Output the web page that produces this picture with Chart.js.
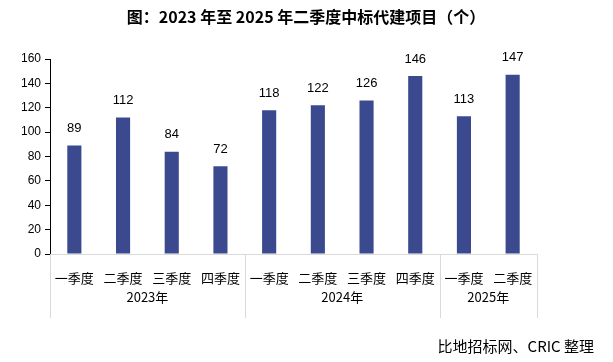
<!DOCTYPE html>
<html>
<head>
<meta charset="utf-8">
<script src="https://cdn.jsdelivr.net/npm/chart.js@4"></script>
<style>
  html, body { margin: 0; padding: 0; background: #fff; }
  #wrap { position: relative; width: 613px; height: 362px; }
</style>
</head>
<body>
<div id="wrap"><canvas id="chart"></canvas></div>
<script>
// chart data
const quarters = ['一季度', '二季度', '三季度', '四季度', '一季度', '二季度', '三季度', '四季度', '一季度', '二季度'];
const years = ['2023年', '2024年', '2025年'];
const yearSpans = [4, 4, 2]; // quarters per year group
const projects = [89, 112, 84, 72, 118, 122, 126, 146, 113, 147];
const yTicks = [0, 20, 40, 60, 80, 100, 120, 140, 160];

const titleText = '图：2023 年至 2025 年二季度中标代建项目（个）';
const sourceText = '比地招标网、CRIC 整理';

const BAR_COLOR = '#3B4A8F';
const FONT = '"Liberation Sans", "Noto Sans CJK SC", sans-serif';
const CJK = '"Noto Sans CJK SC", "Liberation Sans", sans-serif';

// value labels above bars, year groups and separators under the axis, title, source note
const extrasPlugin = {
    id: 'extras',
    afterDatasetsDraw(chart) {
        const ctx = chart.ctx;
        const meta = chart.getDatasetMeta(0);
        ctx.save();
        ctx.fillStyle = '#000';
        ctx.font = '13px ' + FONT;
        ctx.textAlign = 'center';
        ctx.textBaseline = 'middle';
        meta.data.forEach((bar, i) => {
            ctx.fillText(String(projects[i]), bar.x, bar.y - 17);
        });
        ctx.restore();
    },
    afterDraw(chart) {
        const ctx = chart.ctx;
        const area = chart.chartArea;
        const step = (area.right - area.left) / quarters.length;
        ctx.save();
        // group separators
        ctx.strokeStyle = '#d9d9d9';
        ctx.lineWidth = 1;
        let idx = 0;
        const edges = [0];
        yearSpans.forEach(n => { idx += n; edges.push(idx); });
        edges.forEach(e => {
            const px = Math.round(area.left + e * step) + 0.5;
            ctx.beginPath();
            ctx.moveTo(px, area.bottom);
            ctx.lineTo(px, area.bottom + 64);
            ctx.stroke();
        });
        // year labels
        ctx.fillStyle = '#000';
        ctx.font = '13px ' + CJK;
        ctx.textAlign = 'center';
        ctx.textBaseline = 'middle';
        years.forEach((y, i) => {
            const cx = area.left + (edges[i] + edges[i + 1]) / 2 * step;
            ctx.fillText(y, cx, area.bottom + 43);
        });
        // title
        ctx.font = 'bold 16px ' + CJK;
        ctx.textAlign = 'center';
        ctx.fillText(titleText, 306, 17);
        // source note
        ctx.font = '15px ' + CJK;
        ctx.textAlign = 'right';
        ctx.fillText(sourceText, 594, 346);
        ctx.restore();
    }
};

const ctx = document.getElementById('chart');
new Chart(ctx, {
    type: 'bar',
    data: {
        labels: quarters,
        datasets: [{
            data: projects,
            backgroundColor: BAR_COLOR,
            categoryPercentage: 1,
            barPercentage: 0.29
        }]
    },
    options: {
        responsive: true,
        maintainAspectRatio: false,
        animation: false,
        layout: { padding: { left: 8, right: 76, top: 59, bottom: 0 } },
        plugins: {
            legend: { display: false },
            tooltip: { enabled: false },
            title: { display: false }
        },
        scales: {
            x: {
                grid: { display: false, drawTicks: false },
                border: { display: true, color: '#d9d9d9' },
                ticks: {
                    color: '#000',
                    font: { family: CJK, size: 13 },
                    padding: 16,
                    maxRotation: 0,
                    autoSkip: false
                },
                afterFit(scale) { scale.height = 108; }
            },
            y: {
                min: 0,
                max: 160,
                afterBuildTicks(scale) { scale.ticks = yTicks.map(v => ({ value: v })); },
                grid: { drawOnChartArea: false, drawTicks: true, tickLength: 5, color: '#000' },
                border: { display: true, color: '#000' },
                ticks: {
                    color: '#000',
                    font: { family: FONT, size: 12 },
                    padding: 4
                },
                afterFit(scale) { scale.width = 42; }
            }
        }
    },
    plugins: [extrasPlugin]
});
</script>
</body>
</html>
